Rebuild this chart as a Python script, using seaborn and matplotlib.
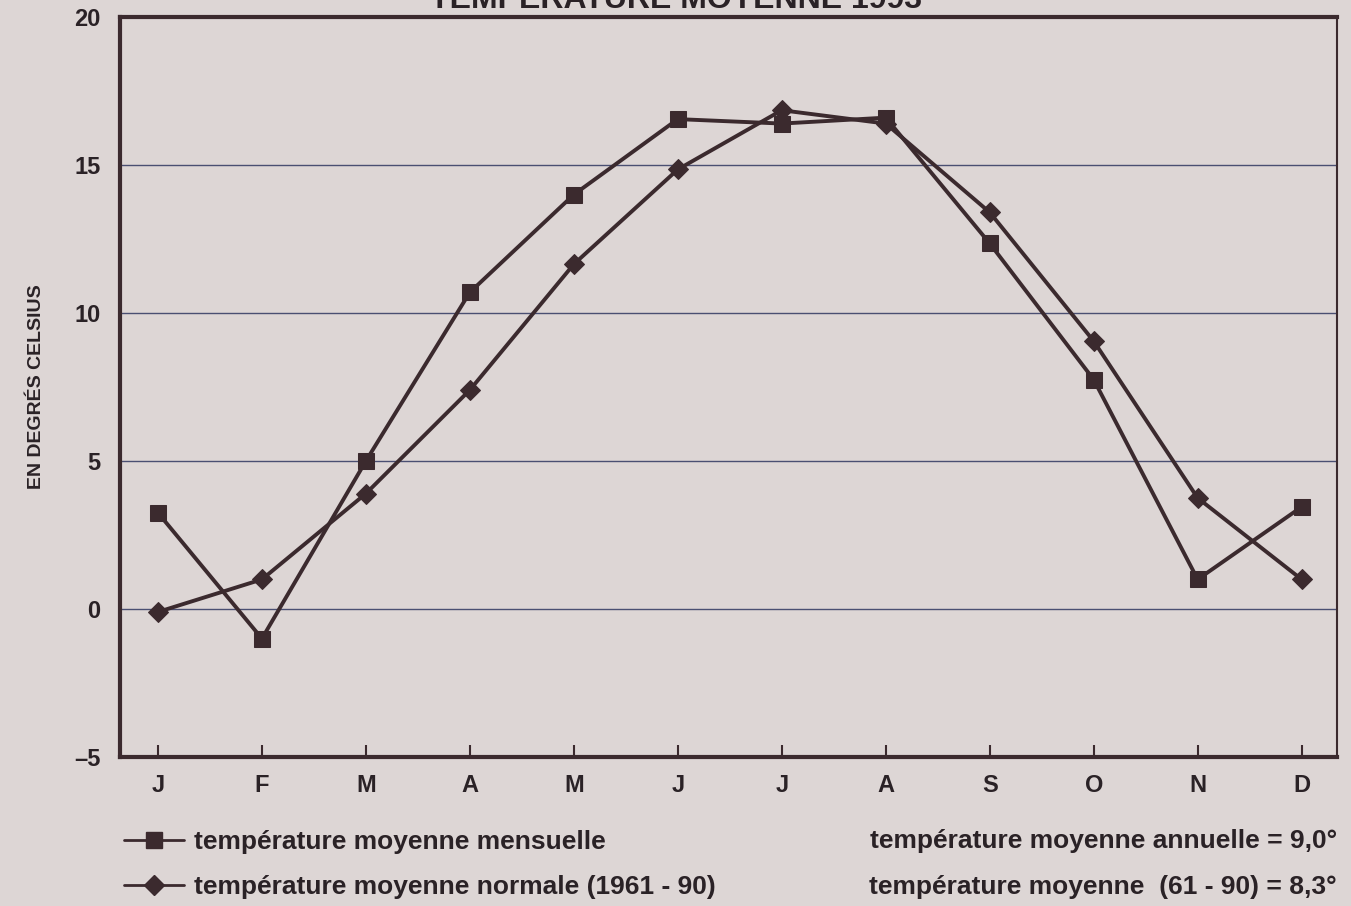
import numpy as np
import pandas as pd
import matplotlib.pyplot as plt
import seaborn as sns
from matplotlib.lines import Line2D

# valeurs
mois = ['J', 'F', 'M', 'A', 'M', 'J', 'J', 'A', 'S', 'O', 'N', 'D']
temp_mensuelle = [3.25, -1.0, 5.0, 10.7, 14.0, 16.55, 16.4, 16.6, 12.35, 7.75, 1.0, 3.45]
temp_normale = [-0.1, 1.0, 3.9, 7.4, 11.65, 14.85, 16.85, 16.4, 13.4, 9.05, 3.75, 1.0]
yticks = [-5, 0, 5, 10, 15, 20]

fond = '#ddd6d5'
trait = '#3b2a2e'
texte = '#2a2226'

sns.set_theme(style='white')
plt.rcParams['font.family'] = ['Liberation Sans', 'DejaVu Sans']
plt.rcParams['font.weight'] = 'bold'

fig = plt.figure(figsize=(13.51, 9.06), dpi=100, facecolor=fond)
ax = fig.add_axes([120 / 1351, 1 - 757 / 906, 1217 / 1351, 740 / 906])
ax.set_facecolor(fond)

x = np.arange(len(mois))
df = pd.DataFrame({'x': x, 'mensuelle': temp_mensuelle, 'normale': temp_normale})

# lignes de grille horizontales
for v in yticks[1:-1]:
    ax.axhline(v, color='#4a4f72', lw=1.0, zorder=1)

sns.lineplot(data=df, x='x', y='mensuelle', ax=ax, color=trait, lw=2.8,
             marker='s', markersize=12, markeredgecolor=trait, zorder=3)
sns.lineplot(data=df, x='x', y='normale', ax=ax, color=trait, lw=2.8,
             marker='D', markersize=10, markeredgecolor=trait, zorder=3)

ax.set_xlim(-0.365, 11.34)
ax.set_ylim(-5, 20)
ax.set_xticks(x)
ax.set_xticklabels(mois, fontsize=17, fontweight='bold', color=texte)
ax.set_yticks(yticks)
ax.set_yticklabels(['\u20135', '0', '5', '10', '15', '20'], fontsize=17,
                   fontweight='bold', color=texte)
ax.tick_params(axis='x', direction='in', length=9, width=1.5, color=trait, pad=12, bottom=True)
ax.tick_params(axis='y', length=0, pad=14)
ax.set_xlabel('')
ax.set_ylabel('EN DEGRÉS CELSIUS', fontsize=14, fontweight='bold', color=texte)
ax.yaxis.set_label_coords(-75 / 1217, 0.5)

for side in ['left', 'bottom', 'top']:
    ax.spines[side].set_color(trait)
    ax.spines[side].set_linewidth(3)
ax.spines['right'].set_color(trait)
ax.spines['right'].set_linewidth(1.5)

# titre coupé en haut de la page, comme sur l'original
fig.text(0.5, 1 - 8 / 906, 'TEMPÉRATURE MOYENNE 1993', ha='center', va='baseline',
         fontsize=23, fontweight='bold', color=texte)

handles = [
    Line2D([], [], color=trait, lw=2, marker='s', markersize=12),
    Line2D([], [], color=trait, lw=2, marker='D', markersize=10),
]
fig.legend(handles, ['température moyenne mensuelle', 'température moyenne normale (1961 - 90)'],
           loc='upper left', bbox_to_anchor=(100 / 1351, 1 - 806 / 906), frameon=False,
           prop={'size': 19, 'weight': 'bold'}, handlelength=2.3, handletextpad=0.35,
           labelspacing=0.82, labelcolor=texte)

fig.text(1337 / 1351, 1 - 841 / 906, 'température moyenne annuelle = 9,0°', ha='right', va='center',
         fontsize=19, fontweight='bold', color=texte)
fig.text(1337 / 1351, 1 - 887 / 906, 'température moyenne  (61 - 90) = 8,3°', ha='right', va='center',
         fontsize=19, fontweight='bold', color=texte)

fig.savefig('out.png', dpi=100, facecolor=fond)
